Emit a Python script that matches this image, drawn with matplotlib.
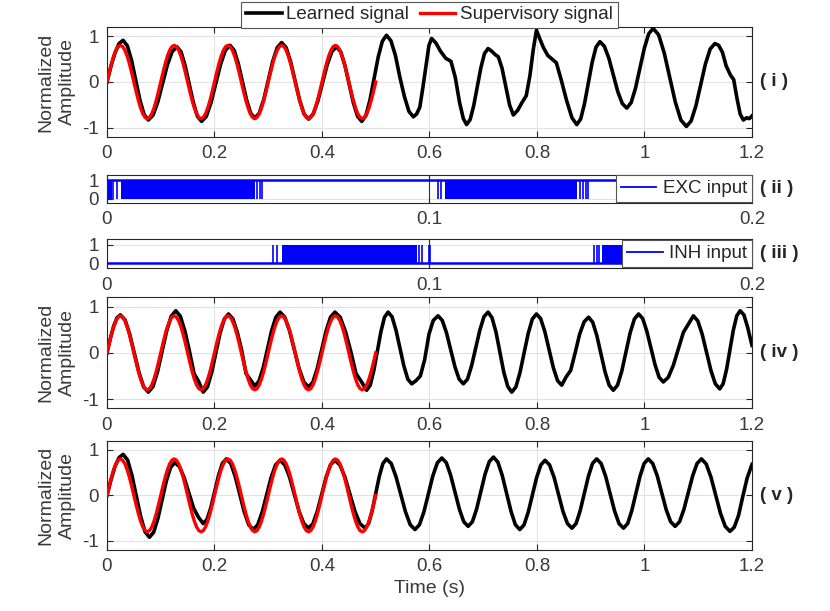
import numpy as np
import matplotlib.pyplot as plt

plt.rcParams['font.family'] = ['Liberation Sans', 'DejaVu Sans']
plt.rcParams['axes.unicode_minus'] = False

TXT = '#262626'

# supervisory (target) signal, same in panels i, iv and v
sup_t = np.linspace(0, 0.5, 121)
sup_v = [0, 0.207, 0.4, 0.566, 0.693, 0.773, 0.8, 0.773, 0.693, 0.566, 0.4, 0.207,
         0, -0.207, -0.4, -0.566, -0.693, -0.773, -0.8, -0.773, -0.693, -0.566, -0.4, -0.207,
         0, 0.207, 0.4, 0.566, 0.693, 0.773, 0.8, 0.773, 0.693, 0.566, 0.4, 0.207,
         0, -0.207, -0.4, -0.566, -0.693, -0.773, -0.8, -0.773, -0.693, -0.566, -0.4, -0.207,
         0, 0.207, 0.4, 0.566, 0.693, 0.773, 0.8, 0.773, 0.693, 0.566, 0.4, 0.207,
         0, -0.207, -0.4, -0.566, -0.693, -0.773, -0.8, -0.773, -0.693, -0.566, -0.4, -0.207,
         0, 0.207, 0.4, 0.566, 0.693, 0.773, 0.8, 0.773, 0.693, 0.566, 0.4, 0.207,
         0, -0.207, -0.4, -0.566, -0.693, -0.773, -0.8, -0.773, -0.693, -0.566, -0.4, -0.207,
         0, 0.207, 0.4, 0.566, 0.693, 0.773, 0.8, 0.773, 0.693, 0.566, 0.4, 0.207,
         0, -0.207, -0.4, -0.566, -0.693, -0.773, -0.8, -0.773, -0.693, -0.566, -0.4, -0.207,
         0]

# learned signals, (time, amplitude)
learned_i = [
    (0.0, 0.0), (0.0075, 0.35), (0.015, 0.64), (0.0225, 0.84), (0.030, 0.91),
    (0.0378, 0.79), (0.0457, 0.475), (0.0535, 0.04), (0.0613, -0.395), (0.0692, -0.713), (0.077, -0.83),
    (0.0858, -0.72), (0.0947, -0.43), (0.1035, -0.03), (0.1123, 0.37), (0.1212, 0.66), (0.130, 0.77),
    (0.1377, 0.66), (0.1453, 0.36), (0.1530, -0.045), (0.1607, -0.45), (0.1683, -0.75), (0.176, -0.86),
    (0.1848, -0.75), (0.1937, -0.445), (0.2025, -0.03), (0.2113, 0.385), (0.2202, 0.69), (0.229, 0.80),
    (0.2367, 0.69), (0.2443, 0.40), (0.2520, 0.005), (0.2597, -0.39), (0.2673, -0.68), (0.275, -0.79),
    (0.2833, -0.68), (0.2917, -0.38), (0.3, 0.035), (0.3083, 0.45), (0.3167, 0.75), (0.325, 0.86),
    (0.3333, 0.75), (0.3417, 0.44), (0.35, 0.025), (0.3583, -0.39), (0.3667, -0.70), (0.375, -0.81),
    (0.3837, -0.70), (0.3923, -0.415), (0.401, -0.02), (0.4097, 0.375), (0.4183, 0.66), (0.427, 0.77),
    (0.4348, 0.66), (0.4427, 0.36), (0.4505, -0.045), (0.4583, -0.45), (0.4662, -0.75), (0.474, -0.86),
    (0.4817, -0.73), (0.4893, -0.39), (0.497, 0.08), (0.5047, 0.55), (0.5123, 0.89), (0.520, 1.02),
    (0.5283, 0.90), (0.5367, 0.575), (0.545, 0.10), (0.5533, -0.315), (0.5617, -0.64), (0.570, -0.76),
    (0.576, -0.70), (0.582, -0.55), (0.588, -0.10), (0.594, 0.40), (0.599, 0.80), (0.604, 0.95),
    (0.612, 0.85), (0.620, 0.68), (0.630, 0.52), (0.640, 0.45), (0.648, 0.10), (0.656, -0.45),
    (0.663, -0.80), (0.669, -0.93),
    (0.6757, -0.82), (0.6823, -0.515), (0.689, -0.10), (0.6957, 0.315), (0.7023, 0.62), (0.709, 0.73),
    (0.715, 0.68), (0.722, 0.60), (0.728, 0.55), (0.735, 0.30), (0.742, -0.10), (0.749, -0.50), (0.756, -0.72),
    (0.764, -0.62), (0.772, -0.45), (0.780, -0.30), (0.787, 0.15), (0.793, 0.70), (0.799, 1.13),
    (0.805, 0.95), (0.812, 0.75), (0.820, 0.58), (0.828, 0.50), (0.836, 0.42), (0.845, 0.05),
    (0.855, -0.40), (0.865, -0.78), (0.874, -0.93),
    (0.8812, -0.81), (0.8883, -0.48), (0.8955, -0.025), (0.9027, 0.43), (0.9098, 0.76), (0.917, 0.88),
    (0.9253, 0.78), (0.9337, 0.52), (0.942, 0.155), (0.9503, -0.21), (0.9587, -0.47), (0.967, -0.57),
    (0.9752, -0.45), (0.9833, -0.135), (0.9915, 0.30), (0.9997, 0.735), (1.0078, 1.05), (1.016, 1.17),
    (1.0263, 1.03), (1.0367, 0.635), (1.047, 0.10), (1.0573, -0.435), (1.0677, -0.83), (1.078, -0.97),
    (1.0868, -0.85), (1.0957, -0.52), (1.1045, -0.065), (1.1133, 0.39), (1.1222, 0.72), (1.131, 0.84),
    (1.138, 0.80), (1.145, 0.65), (1.152, 0.35), (1.160, 0.15), (1.166, 0.05), (1.172, -0.35),
    (1.178, -0.70), (1.184, -0.83), (1.190, -0.78), (1.195, -0.80), (1.2, -0.74),
]

learned_iv = [
    (0.0, 0.0), (0.00625, 0.31), (0.0125, 0.58), (0.01875, 0.76), (0.025, 0.82),
    (0.0337, 0.71), (0.0423, 0.40), (0.051, -0.015), (0.0597, -0.43), (0.0683, -0.74), (0.077, -0.85),
    (0.0855, -0.73), (0.094, -0.41), (0.1025, 0.03), (0.111, 0.47), (0.1195, 0.79), (0.128, 0.91),
    (0.1365, 0.79), (0.145, 0.47), (0.1535, 0.03), (0.162, -0.45), (0.1705, -0.62), (0.179, -0.85),
    (0.1868, -0.74), (0.1947, -0.43), (0.2025, -0.005), (0.2103, 0.42), (0.2182, 0.73), (0.226, 0.84),
    (0.2342, 0.735), (0.2423, 0.45), (0.2505, 0.06), (0.2587, -0.45), (0.2668, -0.58), (0.275, -0.72),
    (0.2828, -0.61), (0.2907, -0.32), (0.2985, 0.08), (0.3063, 0.48), (0.3142, 0.77), (0.322, 0.88),
    (0.3308, 0.77), (0.3397, 0.475), (0.3485, 0.07), (0.3573, -0.335), (0.3662, -0.63), (0.375, -0.74),
    (0.3832, -0.63), (0.3913, -0.335), (0.3995, 0.07), (0.4077, 0.475), (0.4158, 0.77), (0.424, 0.88),
    (0.4338, 0.77), (0.4437, 0.46), (0.4535, 0.035), (0.4633, -0.45), (0.4732, -0.62), (0.483, -0.81),
    (0.4897, -0.70), (0.4963, -0.39), (0.503, 0.035), (0.5097, 0.46), (0.5163, 0.77), (0.523, 0.88),
    (0.5303, 0.78), (0.5377, 0.49), (0.545, 0.105), (0.5523, -0.28), (0.5597, -0.57), (0.567, -0.67),
    (0.575, -0.60), (0.583, -0.50), (0.591, -0.15), (0.599, 0.40), (0.607, 0.70), (0.616, 0.80),
    (0.6238, 0.70), (0.6317, 0.43), (0.6395, 0.065), (0.6473, -0.30), (0.6552, -0.57), (0.663, -0.67),
    (0.6707, -0.57), (0.6783, -0.28), (0.686, 0.105), (0.6937, 0.49), (0.7013, 0.78), (0.709, 0.88),
    (0.7163, 0.76), (0.7237, 0.45), (0.731, 0.015), (0.7383, -0.42), (0.7457, -0.73), (0.753, -0.85),
    (0.7607, -0.74), (0.7683, -0.43), (0.776, -0.005), (0.7837, 0.42), (0.7913, 0.73), (0.799, 0.84),
    (0.8068, 0.74), (0.8147, 0.455), (0.8225, 0.07), (0.8303, -0.315), (0.8382, -0.60), (0.846, -0.70),
    (0.8543, -0.52), (0.8627, -0.38), (0.871, 0.0), (0.8793, 0.40), (0.8877, 0.67), (0.896, 0.77),
    (0.9037, 0.66), (0.9113, 0.375), (0.919, -0.02), (0.9267, -0.415), (0.9343, -0.70), (0.942, -0.81),
    (0.9498, -0.70), (0.9577, -0.40), (0.9655, 0.015), (0.9733, 0.43), (0.9812, 0.73), (0.989, 0.84),
    (0.9967, 0.74), (1.0043, 0.47), (1.012, 0.105), (1.0197, -0.26), (1.0273, -0.53), (1.035, -0.63),
    (1.0443, -0.53), (1.0537, -0.27), (1.063, 0.085), (1.0723, 0.44), (1.0817, 0.62), (1.091, 0.80),
    (1.0992, 0.69), (1.1073, 0.405), (1.1155, 0.01), (1.1237, -0.385), (1.1318, -0.67), (1.140, -0.78),
    (1.1463, -0.67), (1.1527, -0.36), (1.159, 0.065), (1.1653, 0.49), (1.1717, 0.80), (1.178, 0.91),
    (1.185, 0.82), (1.192, 0.55), (1.2, 0.16),
]

learned_v = [
    (0.0, 0.0), (0.0075, 0.34), (0.015, 0.64), (0.0225, 0.83), (0.030, 0.90),
    (0.0382, 0.78), (0.0463, 0.445), (0.0545, -0.01), (0.0627, -0.465), (0.0708, -0.80), (0.079, -0.92),
    (0.0868, -0.81), (0.0947, -0.51), (0.1025, -0.10), (0.1103, 0.31), (0.1182, 0.61), (0.126, 0.72),
    (0.1348, 0.63), (0.1437, 0.385), (0.1525, 0.05), (0.1613, -0.285), (0.1702, -0.48), (0.179, -0.62),
    (0.1862, -0.525), (0.1933, -0.265), (0.2005, 0.09), (0.2077, 0.445), (0.2148, 0.705), (0.222, 0.80),
    (0.2303, 0.70), (0.2387, 0.41), (0.247, 0.025), (0.2553, -0.36), (0.2637, -0.645), (0.272, -0.75),
    (0.2803, -0.65), (0.2887, -0.37), (0.297, 0.01), (0.3053, 0.39), (0.3137, 0.67), (0.322, 0.77),
    (0.3308, 0.67), (0.3397, 0.40), (0.3485, 0.025), (0.3573, -0.35), (0.3662, -0.62), (0.375, -0.72),
    (0.3832, -0.62), (0.3913, -0.35), (0.3995, 0.025), (0.4077, 0.40), (0.4158, 0.67), (0.424, 0.77),
    (0.4333, 0.67), (0.4427, 0.40), (0.452, 0.025), (0.4613, -0.35), (0.4707, -0.62), (0.480, -0.72),
    (0.4867, -0.62), (0.4933, -0.34), (0.5, 0.04), (0.5067, 0.42), (0.5133, 0.70), (0.520, 0.80),
    (0.5288, 0.70), (0.5377, 0.41), (0.5465, 0.025), (0.5553, -0.36), (0.5642, -0.645), (0.573, -0.75),
    (0.5813, -0.645), (0.5897, -0.36), (0.598, 0.035), (0.6063, 0.43), (0.6147, 0.715), (0.623, 0.82),
    (0.6312, 0.72), (0.6393, 0.445), (0.6475, 0.07), (0.6557, -0.305), (0.6638, -0.58), (0.672, -0.68),
    (0.6798, -0.58), (0.6877, -0.30), (0.6955, 0.08), (0.7033, 0.46), (0.7112, 0.74), (0.719, 0.84),
    (0.7272, 0.73), (0.7353, 0.44), (0.7435, 0.045), (0.7517, -0.35), (0.7598, -0.645), (0.768, -0.75),
    (0.7758, -0.65), (0.7837, -0.37), (0.7915, 0.01), (0.7993, 0.39), (0.8072, 0.67), (0.815, 0.77),
    (0.8233, 0.67), (0.8317, 0.40), (0.84, 0.025), (0.8483, -0.35), (0.8567, -0.62), (0.865, -0.72),
    (0.8727, -0.62), (0.8803, -0.34), (0.888, 0.04), (0.8957, 0.42), (0.9033, 0.70), (0.911, 0.80),
    (0.9193, 0.70), (0.9277, 0.42), (0.936, 0.04), (0.9443, -0.34), (0.9527, -0.62), (0.961, -0.72),
    (0.9687, -0.62), (0.9763, -0.34), (0.984, 0.04), (0.9917, 0.42), (0.9993, 0.70), (1.007, 0.80),
    (1.0153, 0.70), (1.0237, 0.43), (1.032, 0.06), (1.0403, -0.31), (1.0487, -0.58), (1.057, -0.68),
    (1.0652, -0.58), (1.0733, -0.31), (1.0815, 0.06), (1.0897, 0.43), (1.0978, 0.70), (1.106, 0.80),
    (1.1148, 0.69), (1.1237, 0.40), (1.1325, 0.005), (1.1413, -0.39), (1.1502, -0.68), (1.159, -0.79),
    (1.167, -0.70), (1.175, -0.44), (1.183, -0.02), (1.191, 0.38), (1.2, 0.68),
]

# spike inputs: dense bursts (start, end) and isolated spikes (s)
exc_level = 1
exc_bursts = [(0.0004, 0.0015), (0.0044, 0.0459), (0.1049, 0.1456)]
exc_spikes = [0.0018, 0.0030, 0.0464, 0.0473, 0.0482, 0.1025, 0.1037,
              0.1466, 0.1477, 0.1485, 0.1490]
inh_level = 0
inh_bursts = [(0.0542, 0.0960), (0.1534, 0.1700)]
inh_spikes = [0.0516, 0.0528, 0.0966, 0.0977, 0.0999, 0.1001,
              0.1510, 0.1519, 0.1527]

sig_ticks = [0, 0.2, 0.4, 0.6, 0.8, 1.0, 1.2]
sig_ticklabels = ['0', '0.2', '0.4', '0.6', '0.8', '1', '1.2']
spk_ticks = [0, 0.1, 0.2]
spk_ticklabels = ['0', '0.1', '0.2']


def style_axes(ax):
    for s in ax.spines.values():
        s.set_color(TXT)
        s.set_linewidth(0.8)
    ax.tick_params(direction='in', top=True, right=True, length=4.5, width=0.8,
                   color=TXT, labelcolor='#3a3a3a', labelsize=13.5, pad=6)
    ax.grid(True, color='#e2e2e2', lw=0.8)
    ax.set_axisbelow(True)


def signal_panel(ax, learned, show_sup=True):
    t = [p[0] for p in learned]
    v = [p[1] for p in learned]
    ax.plot(t, v, color='black', lw=2.6, label='Learned signal', zorder=3)
    if show_sup:
        ax.plot(sup_t, sup_v, color='red', lw=2.4, label='Supervisory signal', zorder=4)
    ax.set_xlim(0, 1.2)
    ax.set_ylim(-1.2, 1.2)
    ax.set_xticks(sig_ticks)
    ax.set_xticklabels(sig_ticklabels)
    ax.set_yticks([-1, 0, 1])
    ax.set_yticklabels(['-1', '0', '1'])
    ax.set_ylabel('Normalized\nAmplitude', fontsize=14, color='#3a3a3a',
                  linespacing=1.35, labelpad=4)
    style_axes(ax)


def spike_panel(ax, level, bursts, spikes, label, ylim):
    ax.plot([0, 0.2], [level, level], color='blue', lw=1.8, label=label, zorder=3)
    for s, e in bursts:
        ax.fill_between([s, e], 0, 1, color='blue', lw=0, zorder=3)
    ax.vlines(spikes, 0, 1, color='blue', lw=1.2, zorder=3)
    ax.axvline(0.1, color='#333333', lw=0.8, zorder=2)
    ax.set_xlim(0, 0.2)
    ax.set_ylim(*ylim)
    ax.set_xticks(spk_ticks)
    ax.set_xticklabels(spk_ticklabels)
    ax.set_yticks([0, 1])
    style_axes(ax)
    h = [plt.Line2D([], [], color='blue', lw=1.3)]
    leg = ax.legend(h, [label], loc='center right', bbox_to_anchor=(1.0, 0.5),
                    borderaxespad=0, fontsize=13.5, handlelength=1.9,
                    handletextpad=0.35, borderpad=0.25, fancybox=False,
                    framealpha=1, edgecolor='#555555')
    leg.get_frame().set_linewidth(0.8)
    for tx in leg.get_texts():
        tx.set_color(TXT)
    leg.set_zorder(10)


fig = plt.figure(figsize=(8.3, 6.11), dpi=100)
L, W = 0.1289, 0.7771
ax1 = fig.add_axes([L, 0.7758, W, 0.1800])
ax2 = fig.add_axes([L, 0.6683, W, 0.0458])
ax3 = fig.add_axes([L, 0.5609, W, 0.0480])
ax4 = fig.add_axes([L, 0.3317, W, 0.1817])
ax5 = fig.add_axes([L, 0.0998, W, 0.1789])

signal_panel(ax1, learned_i)
spike_panel(ax2, exc_level, exc_bursts, exc_spikes, 'EXC input', (-0.2, 1.3))
spike_panel(ax3, inh_level, inh_bursts, inh_spikes, 'INH input', (-0.28, 1.3))
signal_panel(ax4, learned_iv)
signal_panel(ax5, learned_v)
ax5.set_xlabel('Time (s)', fontsize=14, color='#3a3a3a', labelpad=3)

leg = ax1.legend(loc='lower center', bbox_to_anchor=(0.5, 0.99), ncol=2,
                 fontsize=13.5, handlelength=1.9, handletextpad=0.25,
                 columnspacing=0.55, borderpad=0.25, borderaxespad=0,
                 fancybox=False, framealpha=1, edgecolor='#555555')
leg.get_frame().set_linewidth(0.8)
for tx in leg.get_texts():
    tx.set_color(TXT)

for ax, lab in [(ax1, '( i )'), (ax2, '( ii )'), (ax3, '( iii )'),
                (ax4, '( iv )'), (ax5, '( v )')]:
    ax.text(1.013, 0.5, lab, transform=ax.transAxes, ha='left', va='center',
            fontsize=13.5, fontweight='bold', color=TXT)

fig.savefig('out.png', dpi=100)
